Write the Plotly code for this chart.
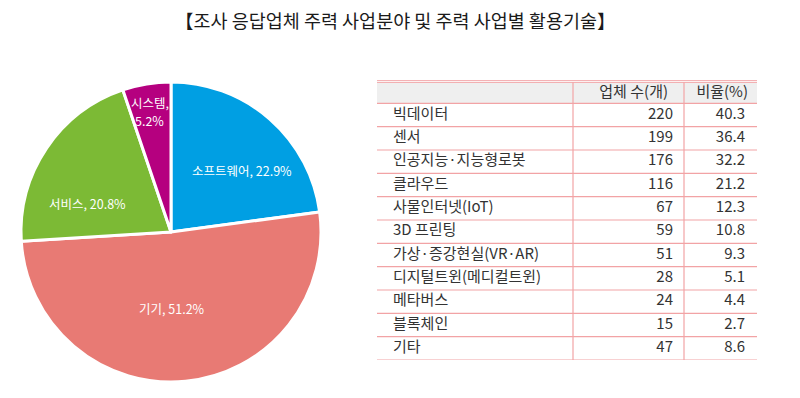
import math
import plotly.graph_objects as go

# ---- data ----
pie_labels = ["소프트웨어", "기기", "서비스", "시스템"]
pie_values = [22.9, 51.2, 20.8, 5.2]
pie_colors = ["#009FE3", "#E87A74", "#7CBA35", "#B5007F"]

tech_names = ["빅데이터", "센서", "인공지능·지능형로봇", "클라우드", "사물인터넷(IoT)", "3D 프린팅",
              "가상·증강현실(VR·AR)", "디지털트윈(메디컬트윈)", "메타버스", "블록체인", "기타"]
tech_counts = [220, 199, 176, 116, 67, 59, 51, 28, 24, 15, 47]
tech_ratios = [40.3, 36.4, 32.2, 21.2, 12.3, 10.8, 9.3, 5.1, 4.4, 2.7, 8.6]
col_headers = ["", "업체 수(개)", "비율(%)"]
title_text = "【조사 응답업체 주력 사업분야 및 주력 사업별 활용기술】"

FONT = "Noto Sans CJK KR"
W, H = 800, 398
OFF = 8  # page body margin
TXT = "#333333"
LINE = "#F2A3A5"
RED = "#E8676D"

def px(x):
    return (x - OFF) / W

def py(y):
    return 1 - (y - OFF) / H

fig = go.Figure()

# pie: centre (171, 232), radius 150 in reference pixels
CX, CY, R = 171, 232, 150
fig.add_trace(go.Pie(
    labels=pie_labels, values=pie_values, sort=False, direction="clockwise", rotation=0,
    marker=dict(colors=pie_colors, line=dict(color="white", width=3)),
    textinfo="none", domain=dict(x=[px(CX - R), px(CX + R)], y=[py(CY + R), py(CY - R)]),
    showlegend=False, hoverinfo="label+value",
))

# label placement (style): angle from 12 o'clock clockwise (deg), radius fraction
label_place = [(49, 0.63), (179, 0.51), (289, 0.59), (349, 0.82)]
annotations = []
for i, (lab, val) in enumerate(zip(pie_labels, pie_values)):
    ang, rf = label_place[i]
    lx = CX + rf * R * math.sin(math.radians(ang))
    ly = CY - rf * R * math.cos(math.radians(ang))
    lf = dict(family=FONT, size=12.5, color="white")
    if i != 3:
        annotations.append(dict(text=f"{lab}, {val}%", x=px(lx), y=py(ly), xref="paper", yref="paper",
                                showarrow=False, xanchor="center", yanchor="middle", font=lf))
    else:
        # two-line label
        annotations.append(dict(text=f"{lab},", x=px(lx + 2), y=py(ly - 9), xref="paper", yref="paper",
                                showarrow=False, xanchor="center", yanchor="middle", font=lf,
                                borderpad=0))
        annotations.append(dict(text=f"{val}%", x=px(lx + 2), y=py(ly + 9.5), xref="paper", yref="paper",
                                showarrow=False, xanchor="center", yanchor="middle", font=lf,
                                borderpad=0))

annotations.append(dict(text=title_text, x=px(395), y=py(20), xref="paper", yref="paper",
                        showarrow=False, xanchor="center", yanchor="middle",
                        font=dict(family=FONT, size=18.5, color="#1a1a1a")))

# table rows (row 0 = header, rows 1..11 = data)
n = len(tech_names)
rows_mid = [i + 1.5 for i in range(n)]
tf = dict(family=FONT, size=15, color=TXT)
fig.add_trace(go.Scatter(x=[393] * n, y=rows_mid, text=tech_names, mode="text",
                         textposition="middle right", xaxis="x2", yaxis="y2",
                         textfont=tf, showlegend=False, hoverinfo="skip"))
fig.add_trace(go.Scatter(x=[673] * n, y=rows_mid, text=[str(c) for c in tech_counts], mode="text",
                         textposition="middle left", xaxis="x2", yaxis="y2",
                         textfont=tf, showlegend=False, hoverinfo="skip"))
fig.add_trace(go.Scatter(x=[745] * n, y=rows_mid, text=[f"{r:.1f}" for r in tech_ratios], mode="text",
                         textposition="middle left", xaxis="x2", yaxis="y2",
                         textfont=tf, showlegend=False, hoverinfo="skip"))
fig.add_trace(go.Scatter(x=[668, 748], y=[0.55, 0.55], text=col_headers[1:], mode="text",
                         textposition="middle left", xaxis="x2", yaxis="y2",
                         textfont=tf, showlegend=False, hoverinfo="skip"))

shapes = []
x0, x1 = 377, 757
shapes.append(dict(type="rect", xref="x2", yref="y2", x0=x0, x1=x1, y0=0.1, y1=1,
                   fillcolor="#EFEFEF", line=dict(width=0), layer="below"))
shapes.append(dict(type="line", xref="x2", yref="y2", x0=x0, x1=x1, y0=-0.02, y1=-0.02,
                   line=dict(color=RED, width=2)))
shapes.append(dict(type="line", xref="x2", yref="y2", x0=x0, x1=x1, y0=0.1, y1=0.1,
                   line=dict(color=LINE, width=1)))
for k in range(1, n + 2):
    shapes.append(dict(type="line", xref="x2", yref="y2", x0=x0, x1=x1, y0=k, y1=k,
                       line=dict(color=LINE, width=1.2)))
for xv in (573, 684):
    shapes.append(dict(type="line", xref="x2", yref="y2", x0=xv, x1=xv, y0=0.1, y1=n + 1,
                       line=dict(color=LINE, width=1.2)))

fig.update_layout(
    width=W, height=H, margin=dict(l=0, r=0, t=0, b=0),
    paper_bgcolor="white", plot_bgcolor="rgba(0,0,0,0)",
    xaxis2=dict(domain=[px(x0), px(x1)], range=[x0, x1], visible=False, fixedrange=True),
    yaxis2=dict(domain=[py(360), py(80)], range=[n + 1, 0], visible=False, fixedrange=True,
                anchor="x2"),
    shapes=shapes,
    annotations=annotations,
)

fig.write_html("out.html")
